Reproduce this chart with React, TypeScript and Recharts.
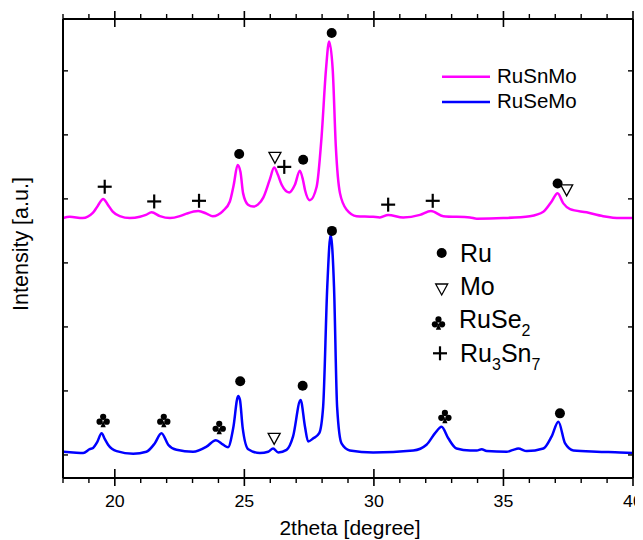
import React from 'react';
import { ComposedChart, Line, Scatter, XAxis, YAxis } from 'recharts';

// 2theta positions and intensities (a.u., already offset for stacking)
const ruSnMoAngle = [
  18.0, 18.26, 18.76, 19.15, 19.34, 19.55, 19.73, 19.92, 20.19, 20.58, 20.97, 21.2, 21.42, 21.74,
  22.13, 22.51, 22.77, 23.22, 23.54, 23.78, 24.17, 24.44, 24.59, 24.74, 24.85, 24.95, 25.14, 25.34,
  25.52, 25.73, 25.98, 26.15, 26.29, 26.44, 26.73, 26.95, 27.14, 27.26, 27.34, 27.53, 27.79, 27.98,
  28.15, 28.27, 28.41, 28.53, 28.69, 28.95, 29.33, 29.97, 30.23, 30.55, 31.13, 31.78, 32.2, 32.68,
  33.71, 33.97, 34.99, 36.02, 36.54, 36.86, 37.09, 37.31, 37.57, 38.21, 38.85, 39.5, 40.0,
];
const ruSnMoIntensity = [
  4.7, 4.72, 4.7, 4.78, 4.89, 5.0, 4.91, 4.8, 4.73, 4.7, 4.72, 4.75, 4.79, 4.73,
  4.7, 4.73, 4.77, 4.81, 4.77, 4.73, 4.81, 4.96, 5.22, 5.53, 5.42, 5.09, 4.91, 4.88,
  4.91, 5.02, 5.3, 5.49, 5.38, 5.22, 5.1, 5.22, 5.44, 5.3, 5.14, 4.98, 5.19, 5.97,
  7.02, 7.46, 7.02, 5.82, 5.09, 4.83, 4.73, 4.72, 4.71, 4.75, 4.71, 4.75, 4.81, 4.73,
  4.71, 4.69, 4.7, 4.73, 4.8, 4.96, 5.09, 4.93, 4.84, 4.79, 4.73, 4.7, 4.7,
];

const ruSeMoAngle = [
  18.0, 18.39, 18.78, 19.03, 19.16, 19.32, 19.49, 19.61, 19.74, 20.07, 20.71, 21.22, 21.54, 21.8,
  22.06, 22.38, 23.02, 23.54, 23.9, 24.18, 24.37, 24.57, 24.76, 24.83, 24.93, 25.15, 25.6, 25.92,
  26.11, 26.31, 26.63, 26.88, 27.17, 27.34, 27.46, 27.66, 27.89, 28.04, 28.2, 28.33, 28.46, 28.58,
  28.75, 29.07, 29.97, 31.52, 32.03, 32.36, 32.61, 32.87, 33.19, 33.71, 33.97, 34.16, 34.35, 35.12,
  35.38, 35.57, 35.9, 36.54, 36.86, 37.12, 37.38, 37.7, 38.6, 39.5, 40.0,
];
const ruSeMoIntensity = [
  1.05, 1.04, 1.03, 1.09, 1.11, 1.2, 1.34, 1.25, 1.16, 1.06, 1.02, 1.05, 1.18, 1.34,
  1.16, 1.08, 1.05, 1.13, 1.23, 1.16, 1.12, 1.42, 1.92, 1.86, 1.44, 1.09, 1.03, 1.05,
  1.1, 1.04, 1.08, 1.29, 1.86, 1.44, 1.21, 1.26, 1.34, 1.75, 3.63, 4.44, 3.63, 1.75,
  1.18, 1.07, 1.04, 1.07, 1.16, 1.34, 1.44, 1.26, 1.1, 1.07, 1.07, 1.09, 1.06, 1.05,
  1.08, 1.1, 1.06, 1.1, 1.29, 1.52, 1.18, 1.07, 1.05, 1.04, 1.03,
];

// phase markers: angle, height, symbol
const markAngle = [
  19.61, 21.52, 23.25, 24.8, 26.18, 26.54, 27.27, 28.37, 30.55, 32.27, 37.09, 37.44,
  19.55, 21.89, 24.03, 24.84, 26.15, 27.25, 28.38, 32.74, 37.18,
];
const markHeight = [
  5.19, 4.96, 4.97, 5.7, 5.65, 5.5, 5.61, 7.59, 4.91, 4.97, 5.24, 5.14,
  1.54, 1.54, 1.43, 2.15, 1.26, 2.08, 4.5, 1.6, 1.65,
];
const markKind = [
  'plus', 'plus', 'plus', 'dot', 'tri', 'plus', 'dot', 'dot', 'plus', 'plus', 'dot', 'tri',
  'club', 'club', 'club', 'dot', 'tri', 'dot', 'dot', 'club', 'dot',
];

const xTicks = [18, 19, 20, 21, 22, 23, 24, 25, 26, 27, 28, 29, 30, 31, 32, 33, 34, 35, 36, 37, 38, 39, 40];
const yTicks = [1, 2, 3, 4, 5, 6, 7];

const ruSnMo = ruSnMoAngle.map((x, i) => ({ x, y: ruSnMoIntensity[i] }));
const ruSeMo = ruSeMoAngle.map((x, i) => ({ x, y: ruSeMoIntensity[i] }));
const marks = markAngle.map((x, i) => ({ x, y: markHeight[i], kind: markKind[i] }));

const FONT = '"Liberation Sans", Arial, sans-serif';

const PhaseSymbol = ({ kind, x, y }: any) => {
  if (kind === 'dot') return <circle cx={x} cy={y} r={5} fill='#000' />;
  if (kind === 'tri')
    return (
      <path
        d={`M${x - 6},${y - 5} L${x + 6},${y - 5} L${x},${y + 6} Z`}
        fill='#fff'
        stroke='#000'
        strokeWidth={1.3}
      />
    );
  if (kind === 'plus')
    return (
      <g stroke='#000' strokeWidth={2.2}>
        <line x1={x - 7} x2={x + 7} y1={y} y2={y} />
        <line x1={x} x2={x} y1={y - 7} y2={y + 7} />
      </g>
    );
  return (
    <g transform={`translate(${x},${y})`} fill='#000'>
      <circle cx={0} cy={-3.6} r={3.1} />
      <circle cx={-3.6} cy={1.3} r={3.1} />
      <circle cx={3.6} cy={1.3} r={3.1} />
      <path d='M0,0 L-2.6,6.8 L2.6,6.8 Z' />
    </g>
  );
};

const MarkShape = ({ cx, cy, payload }: any) => <PhaseSymbol kind={payload.kind} x={cx} y={cy} />;

const BottomTick = ({ x, y, payload }: any) => {
  const major = payload.value % 5 === 0;
  return (
    <g>
      {major ? (
        <line x1={x} x2={x} y1={y - 9} y2={y + 8} stroke='#000' strokeWidth={1.6} />
      ) : (
        <line x1={x} x2={x} y1={y} y2={y + 5} stroke='#000' strokeWidth={1.4} />
      )}
      {major && (
        <text
          transform={`translate(${x},${y + 29}) scale(1.08,1)`}
          textAnchor='middle'
          fontSize={16.5}
          fontFamily={FONT}
          fill='#000'
        >
          {payload.value}
        </text>
      )}
    </g>
  );
};

const TopTick = ({ x, y, payload }: any) => {
  const major = payload.value % 5 === 0;
  return major ? (
    <line x1={x} x2={x} y1={y - 8} y2={y + 8} stroke='#000' strokeWidth={1.6} />
  ) : (
    <line x1={x} x2={x} y1={y - 5} y2={y} stroke='#000' strokeWidth={1.4} />
  );
};

const LeftTick = ({ x, y }: any) => <line x1={x} x2={x + 5} y1={y} y2={y} stroke='#000' strokeWidth={1.4} />;
const RightTick = ({ x, y }: any) => <line x1={x - 5} x2={x} y1={y} y2={y} stroke='#000' strokeWidth={1.4} />;

const axisLine = { stroke: '#000', strokeWidth: 2 };

const App = () => {
  return (
    <div style={{ position: 'relative', width: 655, height: 532 }}>
      <ComposedChart width={655} height={532} margin={{ top: 1, right: 20, bottom: 32, left: 45 }}>
        <XAxis
          xAxisId='b'
          type='number'
          dataKey='x'
          domain={[18, 40]}
          ticks={xTicks}
          interval={0}
          height={30}
          tickSize={0}
          tickMargin={0}
          tickLine={false}
          tick={BottomTick}
          axisLine={axisLine}
          allowDataOverflow
        />
        <XAxis
          xAxisId='t'
          orientation='top'
          type='number'
          dataKey='x'
          domain={[18, 40]}
          ticks={xTicks}
          interval={0}
          height={10}
          tickSize={0}
          tickMargin={0}
          tickLine={false}
          tick={TopTick}
          axisLine={axisLine}
          allowDataOverflow
        />
        <YAxis
          yAxisId='l'
          type='number'
          dataKey='y'
          domain={[0.64, 7.81]}
          ticks={yTicks}
          interval={0}
          width={10}
          tickSize={0}
          tickMargin={0}
          tickLine={false}
          tick={LeftTick}
          axisLine={axisLine}
          allowDataOverflow
        />
        <YAxis
          yAxisId='r'
          orientation='right'
          type='number'
          dataKey='y'
          domain={[0.64, 7.81]}
          ticks={yTicks}
          interval={0}
          width={10}
          tickSize={0}
          tickMargin={0}
          tickLine={false}
          tick={RightTick}
          axisLine={axisLine}
          allowDataOverflow
        />
        <Line
          xAxisId='b'
          yAxisId='l'
          data={ruSnMo}
          dataKey='y'
          type='monotone'
          stroke='#FF00FF'
          strokeWidth={2.5}
          dot={false}
          isAnimationActive={false}
        />
        <Line
          xAxisId='b'
          yAxisId='l'
          data={ruSeMo}
          dataKey='y'
          type='monotone'
          stroke='#0000FF'
          strokeWidth={2.5}
          dot={false}
          isAnimationActive={false}
        />
        <Scatter
          xAxisId='b'
          yAxisId='l'
          data={marks}
          dataKey='y'
          shape={MarkShape}
          isAnimationActive={false}
        />
      </ComposedChart>
      <svg
        width={635}
        height={532}
        style={{ position: 'absolute', left: 0, top: 0, pointerEvents: 'none' }}
        fontFamily={FONT}
      >
        <text transform='translate(20,236) rotate(-90)' textAnchor='middle' fontSize={21.5} fill='#000'>
          Intensity [a.u.]
        </text>
        <text transform='translate(342,527) scale(1.05,1)' textAnchor='middle' fontSize={20} fill='#000'>
          2theta [degree]
        </text>

        <line x1={434} x2={482} y1={68.7} y2={68.7} stroke='#FF00FF' strokeWidth={2.5} />
        <text x={489} y={75} fontSize={20.5} fill='#000'>RuSnMo</text>
        <line x1={434} x2={482} y1={94} y2={94} stroke='#0000FF' strokeWidth={2.5} />
        <text x={489} y={100} fontSize={20.5} fill='#000'>RuSeMo</text>

        <PhaseSymbol kind='dot' x={433.7} y={245} />
        <text x={452} y={254} fontSize={25} fill='#000'>Ru</text>
        <PhaseSymbol kind='tri' x={433.7} y={281} />
        <text x={452} y={287} fontSize={25} fill='#000'>Mo</text>
        <PhaseSymbol kind='club' x={430.5} y={315} />
        <text x={451} y={320} fontSize={25} fill='#000'>
          RuSe<tspan fontSize={16} dy={8}>2</tspan>
        </text>
        <PhaseSymbol kind='plus' x={432} y={345.3} />
        <text x={452} y={353.7} fontSize={25} fill='#000'>
          Ru<tspan fontSize={16} dy={8}>3</tspan>
          <tspan dy={-8}>Sn</tspan>
          <tspan fontSize={16} dy={8}>7</tspan>
        </text>
      </svg>
    </div>
  );
};

export default App;
